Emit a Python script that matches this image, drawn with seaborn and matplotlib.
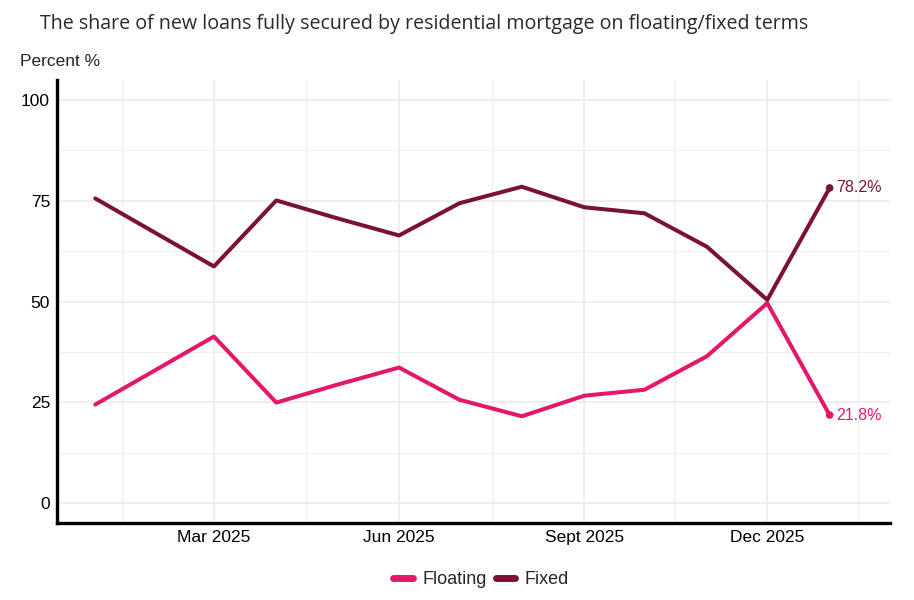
import pandas as pd
import numpy as np
import matplotlib
matplotlib.use('Agg')
import matplotlib.pyplot as plt
import matplotlib.dates as mdates
import seaborn as sns

months = ['2025-01-01', '2025-03-01', '2025-04-01', '2025-05-01', '2025-06-01',
          '2025-07-01', '2025-08-01', '2025-09-01', '2025-10-01', '2025-11-01',
          '2025-12-01', '2026-01-01']
floating = [24.4, 41.3, 24.9, 29.3, 33.6, 25.6, 21.5, 26.6, 28.1, 36.4, 49.6, 21.8]
fixed = [75.6, 58.7, 75.1, 70.7, 66.4, 74.4, 78.5, 73.4, 71.9, 63.6, 50.4, 78.2]
series_names = ['Floating', 'Fixed']
colors = {'Floating': '#e3186b', 'Fixed': '#7b1039'}
tick_dates = ['2025-03-01', '2025-06-01', '2025-09-01', '2025-12-01']
tick_labels = ['Mar 2025', 'Jun 2025', 'Sept 2025', 'Dec 2025']

df = pd.DataFrame({'date': pd.to_datetime(months),
                   'Floating': floating, 'Fixed': fixed})
long = df.melt(id_vars='date', value_vars=series_names,
               var_name='type', value_name='share')

sns.set_style('white')
plt.rcParams['font.family'] = ['Liberation Sans', 'DejaVu Sans']

fig = plt.figure(figsize=(9.14, 6.0), dpi=100)
ax = fig.add_axes([57/914, 77/600, 833/914, 443/600])

sns.lineplot(data=long, x='date', y='share', hue='type',
             hue_order=series_names, palette=colors, lw=2.9,
             ax=ax, legend=False)

# dots + labels on last value
last = long[long['date'] == long['date'].max()]
sns.scatterplot(data=last, x='date', y='share', hue='type',
                hue_order=series_names, palette=colors, s=30,
                edgecolor='none', ax=ax, legend=False, zorder=5)
for _, r in last.iterrows():
    ax.annotate(f"{r['share']:.1f}%", (r['date'], r['share']),
                xytext=(5, 0), textcoords='offset points',
                va='center', ha='left', fontsize=11.5,
                color=colors[r['type']])

ax.set_xlim(pd.Timestamp('2024-12-13'), pd.Timestamp('2026-01-31'))
ax.set_ylim(-5, 105)
ax.set_yticks([0, 25, 50, 75, 100])
ax.set_yticks([12.5, 37.5, 62.5, 87.5], minor=True)
ax.set_xticks(pd.to_datetime(tick_dates))
ax.set_xticklabels(tick_labels)
ax.set_xticks(pd.to_datetime(['2025-01-15', '2025-04-16', '2025-07-17',
                              '2025-10-16', '2026-01-15']), minor=True)

ax.grid(which='major', color='#ebebeb', lw=1.2)
ax.grid(which='minor', color='#f0f0f0', lw=0.9)
ax.set_axisbelow(True)

for s in ['top', 'right']:
    ax.spines[s].set_visible(False)
for s in ['left', 'bottom']:
    ax.spines[s].set_color('black')
    ax.spines[s].set_linewidth(2.4)

ax.tick_params(axis='both', which='major', labelsize=12.5, length=3,
               width=1, color='#333333', pad=2, labelcolor='black')
ax.tick_params(axis='both', which='minor', length=0)
ax.set_xlabel('')
ax.set_ylabel('')

fig.text(40/914, 1 - 24/600, 'The share of new loans fully secured by residential mortgage on floating/fixed terms',
         fontsize=14.1, family=['Open Sans', 'DejaVu Sans'], color='#2a2a2a',
         ha='left', va='center')
fig.text(20/914, 1 - 62/600, 'Percent %', fontsize=12.5, ha='left', va='center')

handles = [plt.Line2D([], [], color=colors[n], lw=5) for n in series_names]
fig.legend(handles, series_names, loc='center', bbox_to_anchor=(481/914, 1 - 580/600),
           ncol=2, frameon=False, fontsize=13, handlelength=1.1,
           handletextpad=0.5, columnspacing=0.5)

fig.savefig('out.png', dpi=100)
